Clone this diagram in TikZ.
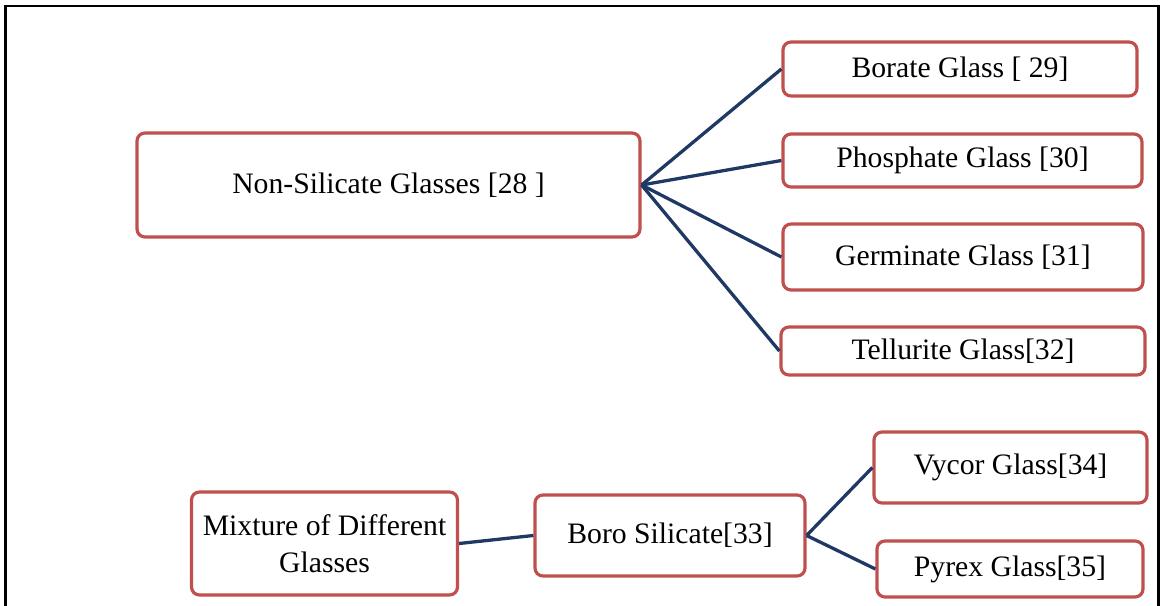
\documentclass[tikz,border=0pt]{standalone}
\usepackage{fontspec}
\setmainfont{Liberation Serif}
\definecolor{boxred}{RGB}{192,80,77}
\definecolor{linkblue}{RGB}{31,56,100}
\begin{document}
\begin{tikzpicture}[x=1bp,y=-1bp,
  box/.style={draw=boxred, line width=3.2bp, rounded corners=8bp, fill=white,
    inner sep=0pt, align=center, font=\fontsize{29.8}{37}\selectfont},
  link/.style={draw=linkblue, line width=3.3bp}]
\useasboundingbox (0,0) rectangle (1160,606);
% outer frame (open at the bottom)
\draw[line width=2.5bp] (5.5,612) -- (5.5,6) -- (1158.5,6) -- (1158.5,612);

% upper tree
\node[box, minimum width=503bp, minimum height=104bp] (nonsil) at (388.5,185) {Non-Silicate Glasses [28 ]};
\node[box, minimum width=354bp, minimum height=54bp] (borate) at (960,69) {Borate Glass [ 29]};
\node[box, minimum width=359bp, minimum height=53bp] (phos) at (962.5,160.5) {Phosphate Glass [30]};
\node[box, minimum width=360bp, minimum height=66bp] (germ) at (963,257) {Germinate Glass [31]};
\node[box, minimum width=364bp, minimum height=48bp] (tell) at (963,351) {Tellurite Glass[32]};

% lower tree
\node[box, minimum width=266bp, minimum height=103bp] (mix) at (324.5,543.5) {Mixture of Different\\Glasses};
\node[box, minimum width=270bp, minimum height=81bp] (boro) at (670,535.5) {Boro Silicate[33]};
\node[box, minimum width=273bp, minimum height=71bp] (vycor) at (1010.5,467.5) {Vycor Glass[34]};
\node[box, minimum width=266bp, minimum height=56bp] (pyrex) at (1010,569) {Pyrex Glass[35]};

% connectors
\draw[link] (nonsil.east) -- (borate.west);
\draw[link] (nonsil.east) -- (phos.west);
\draw[link] (nonsil.east) -- (germ.west);
\draw[link] (nonsil.east) -- (tell.west);
\draw[link] (mix.east) -- (boro.west);
\draw[link] (boro.east) -- (vycor.west);
\draw[link] (boro.east) -- (pyrex.west);
\end{tikzpicture}
\end{document}
